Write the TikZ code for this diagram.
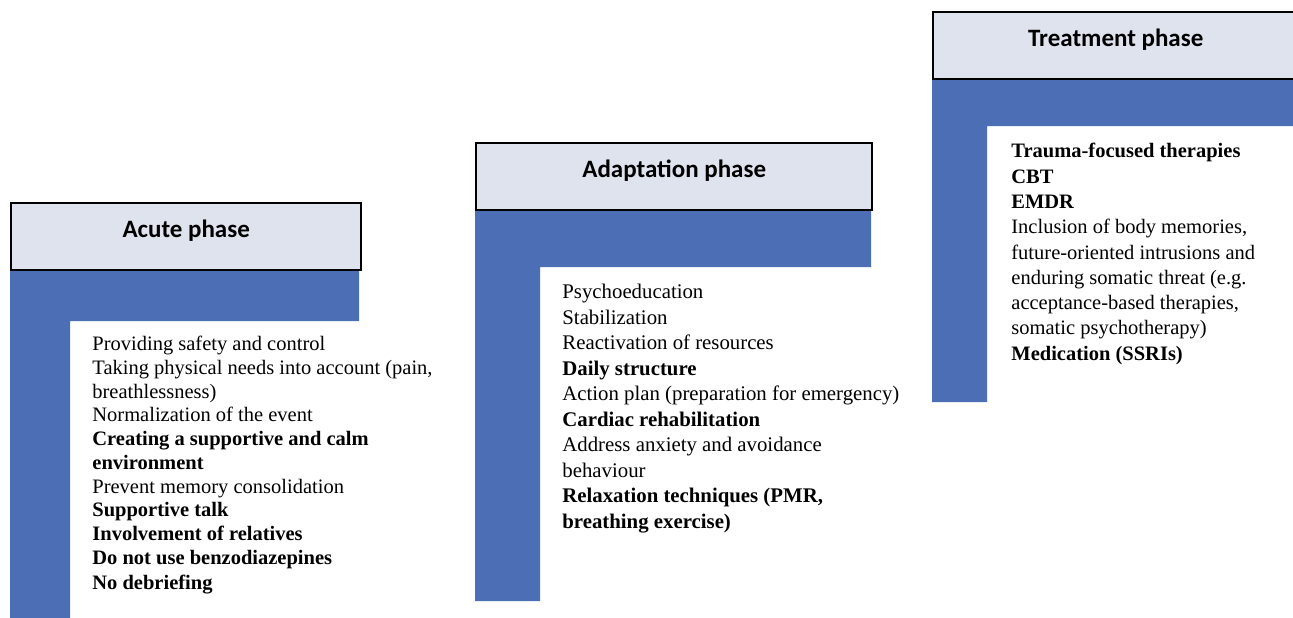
\documentclass[tikz,border=0pt]{standalone}
\usepackage{fontspec}
\setmainfont{Liberation Serif}
\newfontfamily\headfont{Carlito}
\definecolor{phaseblue}{RGB}{75,110,180}
\definecolor{headfill}{RGB}{223,227,238}
\tikzstyle{phasehead}=[rectangle, draw=black, line width=1.2pt, fill=headfill, inner sep=0pt, anchor=north west, text height=17pt, text depth=16.5pt, font=\headfont\bfseries\fontsize{12.5}{15}\selectfont]
\tikzstyle{phasetext}=[inner sep=0pt, anchor=north west, align=left]
\tikzstyle{phasebar}=[fill=phaseblue]

\begin{document}
\begin{tikzpicture}[x=0.5pt, y=-0.5pt]
\useasboundingbox (0,0) rectangle (1293,617);
\clip (0,0) rectangle (1293,617);

\fill[phasebar] (10,269) -- (359,269) -- (359,321) -- (70,321) -- (70,630) -- (10,630) -- cycle;
\fill[phasebar] (475,209) -- (871,209) -- (871,267) -- (540,267) -- (540,601) -- (475,601) -- cycle;
\fill[phasebar] (932,79) -- (1330,79) -- (1330,126) -- (987,126) -- (987,402) -- (932,402) -- cycle;

\node[phasehead, minimum width=175pt](acute) at (10,202) {Acute phase};
\node[phasehead, minimum width=198pt](adapt) at (475,142) {Adaptation phase};
\node[phasehead, minimum width=182.5pt](treat) at (932,11) {Treatment phase};

\node[phasetext, font=\fontsize{10.25}{11.85}\selectfont](acutetext) at (92,336) {%
Providing safety and control\\
Taking physical needs into account (pain,\\
breathlessness)\\
Normalization of the event\\
\textbf{Creating a supportive and calm}\\
\textbf{environment}\\
Prevent memory consolidation\\
\textbf{Supportive talk}\\
\textbf{Involvement of relatives}\\
\textbf{Do not use benzodiazepines}\\[0.7pt]
\textbf{No debriefing}};

\node[phasetext, font=\fontsize{10.4}{12.75}\selectfont](adapttext) at (562,284) {%
Psychoeducation\\
Stabilization\\
Reactivation of resources\\
\textbf{Daily structure}\\
Action plan (preparation for emergency)\\
\textbf{Cardiac rehabilitation}\\
Address anxiety and avoidance\\
behaviour\\
\textbf{Relaxation techniques (PMR,}\\
\textbf{breathing exercise)}};

\node[phasetext, font=\fontsize{10.25}{12.65}\selectfont](treattext) at (1011,143) {%
\textbf{Trauma-focused therapies}\\
\textbf{CBT}\\
\textbf{EMDR}\\
Inclusion of body memories,\\
future-oriented intrusions and\\
enduring somatic threat (e.g.\\
acceptance-based therapies,\\
somatic psychotherapy)\\
\textbf{Medication (SSRIs)}};
\end{tikzpicture}
\end{document}
